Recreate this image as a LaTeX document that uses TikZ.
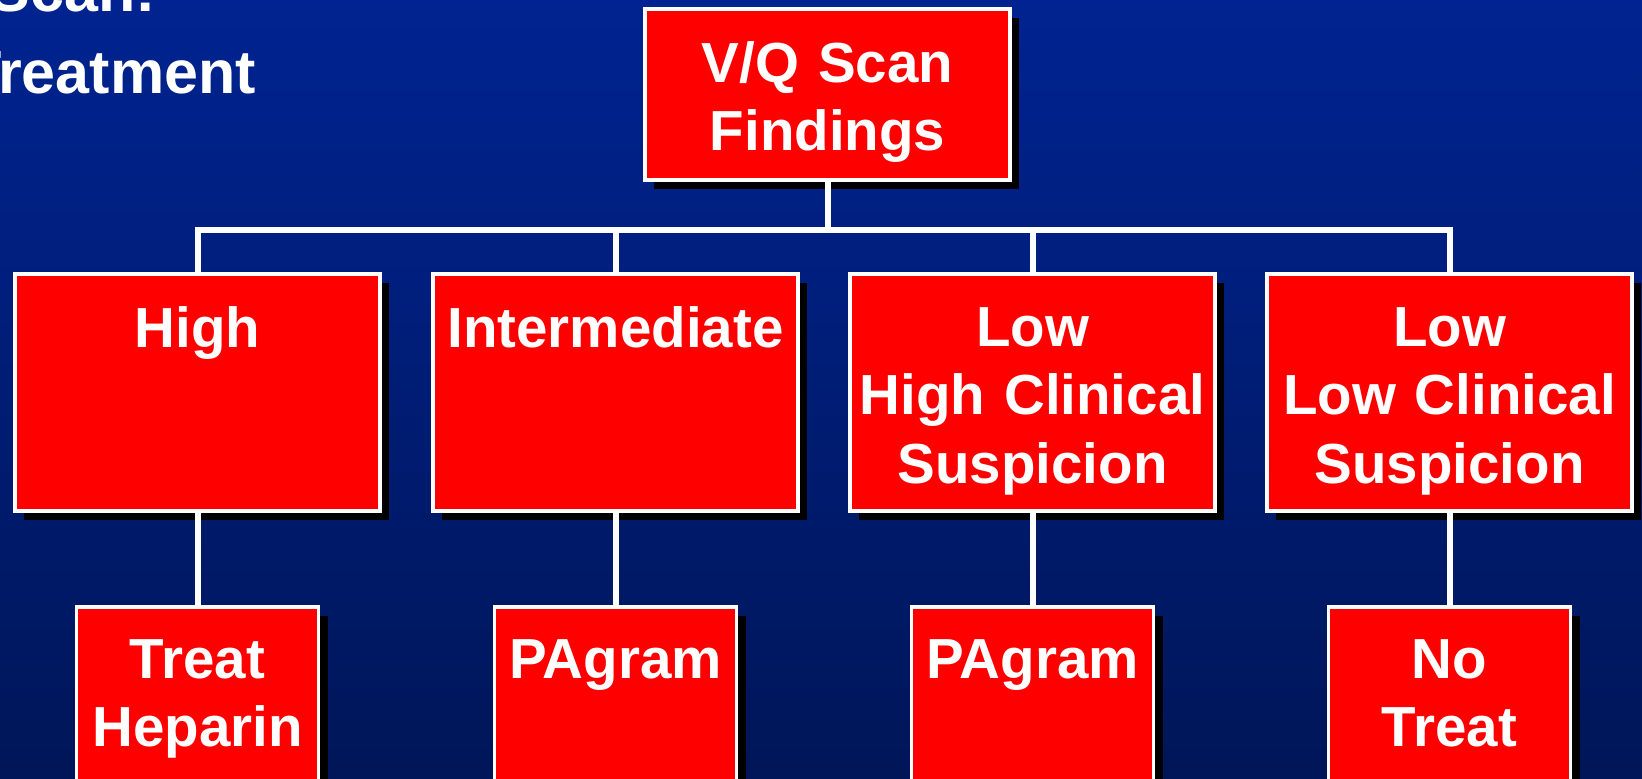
\documentclass[tikz,border=0pt]{standalone}
\usepackage{fontspec}
\setmainfont{Liberation Sans}
\usetikzlibrary{shadows}
\definecolor{bgtop}{RGB}{0,35,145}
\definecolor{bgbot}{RGB}{0,22,88}
\definecolor{boxred}{RGB}{255,0,0}
\newcommand\lnstrut{\rule[-10pt]{0pt}{66pt}}
\newcommand\lnstrutlast{\rule[-26.5pt]{0pt}{82.5pt}}
\tikzset{
  box/.style={draw=white, line width=3.5pt, fill=boxred, text=white, inner sep=0pt, align=center,
    general shadow={fill=black, shadow xshift=9pt, shadow yshift=-9pt}},
  topbox/.style={box, text width=360pt, minimum width=365pt, minimum height=171pt,
    font=\fontsize{56.5}{66.5}\selectfont\bfseries},
  bigbox/.style={box, text width=360pt, minimum width=365pt, minimum height=237pt,
    font=\fontsize{56.5}{68.5}\selectfont\bfseries},
  smallbox/.style={box, text width=240pt, minimum width=242pt, minimum height=181pt,
    font=\fontsize{56.5}{68.5}\selectfont\bfseries},
  titletext/.style={text=white, inner sep=0pt, font=\fontsize{61}{82}\selectfont\bfseries},
  conn/.style={draw=white, line width=6pt}
}
\begin{document}
\begin{tikzpicture}[x=1pt,y=-1pt]
\useasboundingbox (0,0) rectangle (1642,779);
\clip (0,0) rectangle (1642,779);
\shade[top color=bgtop, bottom color=bgbot] (0,0) rectangle (1642,779);

\node[titletext, anchor=base east] (t1) at (156,11) {Scan:};
\node[titletext, anchor=base east] (t2) at (256,93) {Treatment};

\node[topbox] (vq) at (827.5,94.5) {\lnstrut V/Q Scan\\\lnstrut Findings};

\node[bigbox] (high) at (197.5,392.5) {\lnstrut High\\\lnstrut\\\lnstrut};
\node[bigbox] (inter) at (615.5,392.5) {\lnstrut Intermediate\\\lnstrut\\\lnstrut};
\node[bigbox] (lowhi) at (1032.5,392.5) {\lnstrut Low\\\lnstrut High Clinical\\\lnstrut Suspicion};
\node[bigbox] (lowlo) at (1449.5,392.5) {\lnstrut Low\\\lnstrut Low Clinical\\\lnstrut Suspicion};

\node[smallbox] (treat) at (197.5,697.5) {\lnstrut Treat\\\lnstrutlast Heparin};
\node[smallbox] (pa1) at (615.5,697.5) {\lnstrut PAgram\\\lnstrutlast};
\node[smallbox] (pa2) at (1032.5,697.5) {\lnstrut PAgram\\\lnstrutlast};
\node[smallbox] (notreat) at (1449.5,697.5) {\lnstrut No\\\lnstrutlast Treat};

\coordinate (bar) at (197.5,230);
\draw[conn] (vq.south) -- (vq.south |- bar);
\draw[conn] (high.north) -- (high.north |- bar) -- (lowlo.north |- bar) -- (lowlo.north);
\draw[conn] (inter.north) -- (inter.north |- bar);
\draw[conn] (lowhi.north) -- (lowhi.north |- bar);

\draw[conn] (high.south) -- (treat.north);
\draw[conn] (inter.south) -- (pa1.north);
\draw[conn] (lowhi.south) -- (pa2.north);
\draw[conn] (lowlo.south) -- (notreat.north);
\end{tikzpicture}
\end{document}
